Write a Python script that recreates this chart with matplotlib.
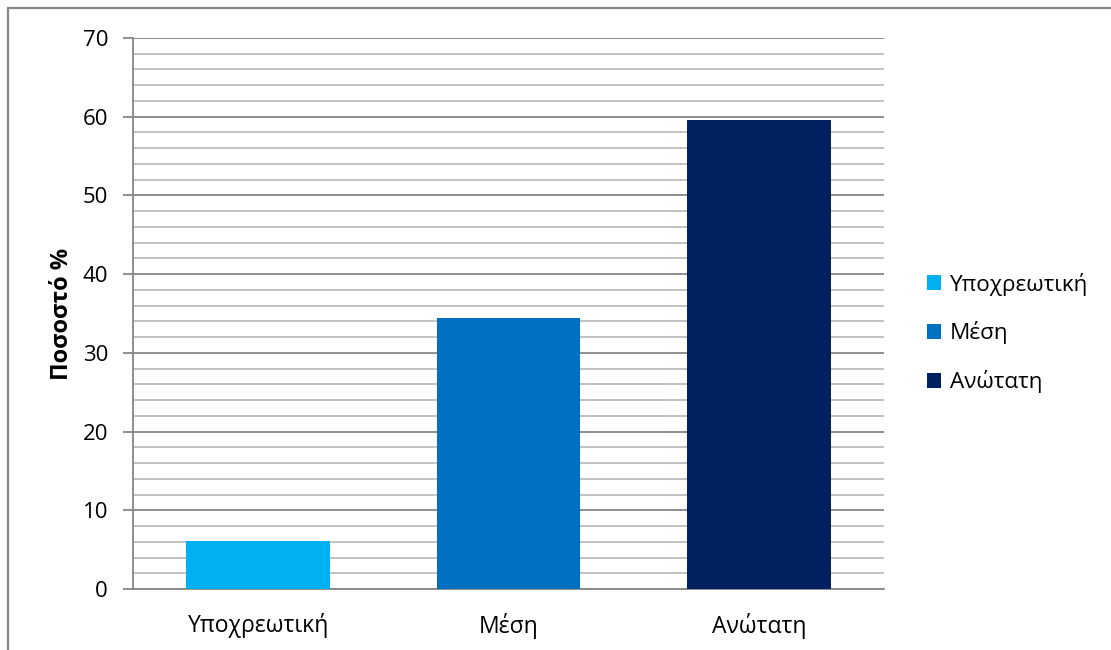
import matplotlib.pyplot as plt
from matplotlib.patches import Rectangle
from matplotlib.ticker import MultipleLocator

categories = ["Υποχρεωτική", "Μέση", "Ανώτατη"]
values = [6.1, 34.4, 59.6]
colors = ["#00B0F0", "#0070C0", "#002060"]

plt.rcParams['font.family'] = ['Open Sans', 'DejaVu Sans']

fig = plt.figure(figsize=(11.11, 6.5), dpi=100)
ax = fig.add_axes([133/1111, 61/650, 751/1111, 551/650])

bars = ax.bar(categories, values, width=0.573, color=colors, zorder=3, label=categories)

ax.set_xlim(-0.5, 2.5)
ax.set_ylim(0, 70)
ax.yaxis.set_major_locator(MultipleLocator(10))
ax.yaxis.set_minor_locator(MultipleLocator(2))
ax.grid(axis='y', which='major', color='#868686', linewidth=1.3, zorder=0)
ax.grid(axis='y', which='minor', color='#BDBDBD', linewidth=1.3, zorder=0)
ax.tick_params(axis='y', which='major', length=7, width=1.3, color='#868686',
               labelsize=16, pad=11)
ax.tick_params(axis='y', which='minor', length=0)
ax.tick_params(axis='x', length=0, labelsize=16.5, pad=17)

for side in ['top', 'right']:
    ax.spines[side].set_visible(False)
for side in ['left', 'bottom']:
    ax.spines[side].set_color('#868686')
    ax.spines[side].set_linewidth(1.3)

ax.set_ylabel("Ποσοστό %", fontsize=17, fontweight='bold', labelpad=6)

fig.legend(bars, categories, loc='center left', bbox_to_anchor=(907/1111, (650 - 333)/650),
           frameon=False, fontsize=16.2, handlelength=0.62, handleheight=0.62,
           handletextpad=0.4, labelspacing=1.15)

# outer chart frame
fig.patches.append(Rectangle((8/1111, -0.1), 1.2, (650 - 8)/650 + 0.1,
                             transform=fig.transFigure, fill=False,
                             edgecolor='#878787', linewidth=1.6))

fig.savefig("out.png", dpi=100)
